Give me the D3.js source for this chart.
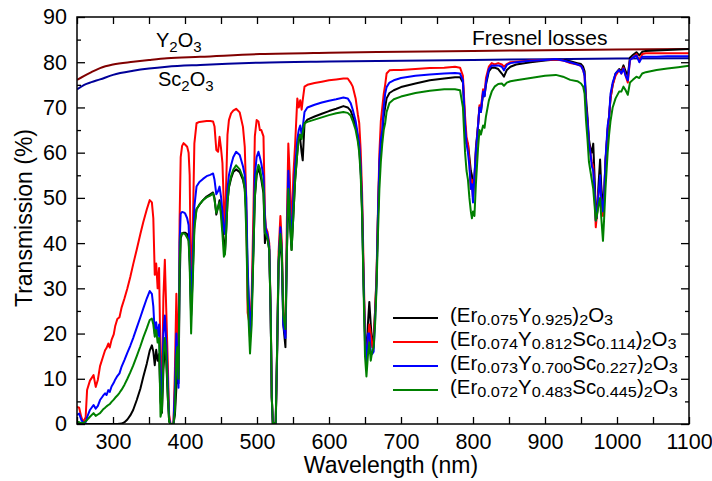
<!DOCTYPE html>
<html><head><meta charset="utf-8">
<script src="https://cdn.jsdelivr.net/npm/d3@7"></script>
<style>
body{margin:0;background:#fff}
svg{display:block}
text{font-family:"Liberation Sans",Arial,Helvetica,sans-serif;fill:#000}
</style>
</head><body>
<svg id="chart" width="712" height="481"></svg>
<script>
// ---------------- data ----------------
const wavelength = [250,253,256,259,262,264,268,273,276,279,282,286,289,291,293.5,295.5,298,301,303,306,309,312,316,320,324,328,333,338,342,347,351,354,356,358,360,362,364,366,368,370,372,374,376,378,380,384,386,388,389.5,391,392.5,394,396,398,400,403,405,406.5,408.5,410.5,413,416,420,425,430,435,439,441,443.5,446,448,450,452,454,455.5,457,459,461,464,467,471,476,480.5,483,485,487,490.3,492.6,495,497,499.5,502,504,506,509,511,512.3,514.6,517,519,520.5,522,526,528,530,532.5,534.5,536.5,539.5,541.5,543.5,545.5,548,550.5,553,556,558,560,562,563.5,566,570,580,590,600,610,620,626,630,633,637,640,642,644,646,648,650,652,654,656,658,660,662,664,666,668,670,672,674,676,678,680,684,690,700,720,740,760,775,782,786,789,791,793,795,797,798.5,800,802,804,807,809,811,814,816,818,822,826,830,835,840,843,847,852,860,880,900,915,925,935,945,950,953,955,957,959,961,963,965,967,969,970.5,972,974,976.5,978,980.5,982,984,987,989,991,994,998,1003,1006,1009,1012,1015,1018,1022,1027,1031,1035,1040,1055,1070,1085,1100];

const sEr075Y925 = [0,0,0,0,0,0,0,0,0,0,0,0,0,0,0,0,0,0,0,0,0.05,0.1,0.4,1.0,1.9,3.1,5.3,7.8,10.4,13.4,16.2,17.4,16.0,13.0,16.4,14.0,15.5,5.0,2.5,12.0,16.5,14.0,6.0,0.5,0,0,2.0,8.0,11.9,9.0,30.0,41.0,42.2,42.3,42.3,42.0,41.0,36.0,24.0,32.0,44.0,47.5,48.5,49.5,50.3,50.8,51.2,50.0,46.3,48.0,49.5,47.0,44.0,40.0,38.0,42.0,49.0,52.3,54.3,55.7,56.3,55.7,54.0,52.0,47.0,33.0,19.0,25.0,38.0,50.0,55.0,56.5,55.5,54.0,51.0,40.0,42.0,41.0,38.5,24.0,6.0,0,0,15.5,35.0,42.0,36.0,22.0,17.0,38.0,51.0,45.0,38.5,46.0,54.0,60.0,64.0,63.0,60.0,58.3,66.5,67.3,68.0,68.6,69.2,69.7,70.3,70.0,69.3,68.0,66.0,63.5,61.0,56.0,47.0,31.0,20.0,15.0,22.0,27.0,22.0,18.0,19.0,25.0,32.0,46.0,57.0,62.0,64.0,68.0,70.0,72.0,73.2,73.8,74.5,75.3,76.0,76.4,76.7,76.7,75.5,66.0,62.0,62.0,59.0,56.0,55.0,52.0,54.0,61.0,66.0,70.0,69.0,73.0,72.5,75.0,78.0,78.8,78.8,78.5,77.5,76.8,78.3,79.0,79.5,80.0,80.4,80.6,80.5,80.2,79.8,79.6,79.0,78.0,72.0,68.0,63.0,61.0,60.0,62.0,54.0,47.0,45.5,52.0,58.5,53.0,48.0,50.0,58.0,65.0,68.0,72.0,75.0,77.5,78.5,78.0,79.3,78.0,77.0,81.0,81.6,82.2,81.5,82.3,82.5,82.6,82.7,82.8,82.9];

const sEr074Sc114 = [3.8,3.6,1.5,0.4,1.5,7.5,9.6,10.8,8.2,9.8,12.8,14.8,16.3,16.8,17.8,16.9,18.6,19.8,21.6,23.2,23.6,25.8,27.8,30.0,32.5,35.3,38.6,42.0,44.6,47.5,49.5,49.0,45.5,33.0,35.5,30.0,34.5,14.0,8.0,28.0,36.3,25.0,14.0,2.0,0,0,12.0,28.8,20.0,12.0,45.0,59.0,61.5,62.1,61.8,61.3,60.0,55.0,28.0,40.0,62.0,66.5,66.8,66.9,67.0,67.0,66.9,65.8,60.6,60.2,63.5,61.0,57.7,48.0,42.0,52.0,64.0,67.2,68.7,69.3,69.7,68.9,65.7,61.3,50.3,24.6,21.5,28.2,46.6,63.6,67.2,66.9,65.0,65.0,63.6,46.6,43.5,42.5,40.0,25.0,6.0,0,0.5,17.5,38.0,46.0,40.0,25.0,20.0,45.0,62.0,55.0,42.0,55.0,62.0,72.0,70.0,71.6,69.5,71.6,74.6,75.0,75.4,75.7,76.0,76.2,76.4,76.4,75.5,74.6,72.0,68.5,66.5,60.5,51.0,35.0,20.0,14.0,18.0,22.0,20.0,17.0,18.0,25.0,33.0,47.0,60.0,67.0,70.0,73.0,75.0,77.5,78.2,78.3,78.3,78.5,78.7,78.8,79.0,78.8,77.0,68.0,63.5,62.0,58.0,52.0,54.0,50.0,54.0,60.0,66.0,70.5,70.0,74.0,73.0,76.5,79.0,79.8,79.5,79.8,79.5,79.0,79.6,80.0,80.1,80.4,80.5,80.6,80.4,79.8,79.5,79.2,78.3,77.0,70.0,67.0,62.0,60.0,58.0,57.0,50.0,43.5,46.0,51.0,53.0,50.0,46.0,50.0,58.0,65.0,68.0,72.0,75.0,77.0,78.3,77.5,78.8,77.0,75.5,80.5,81.0,81.8,80.2,81.8,82.0,82.0,82.0,82.0,82.0];

const sEr073Sc227 = [2.0,2.3,0.9,0.2,0.4,1.5,3.1,4.2,3.4,4.0,5.3,6.2,6.8,6.4,7.5,7.1,8.3,9.1,9.8,10.6,11.2,12.7,14.2,15.8,17.3,19.0,21.3,23.6,25.5,27.8,29.4,28.8,26.0,20.0,22.5,19.5,22.0,10.0,6.0,20.0,24.0,18.0,10.0,1.0,0,0,8.0,20.0,14.0,8.0,40.0,46.5,46.9,46.8,46.6,45.5,44.0,38.0,27.0,35.0,48.0,52.5,53.5,54.2,54.8,55.1,55.4,54.0,50.8,51.5,52.5,50.3,47.0,43.0,42.0,46.0,52.0,55.0,57.2,59.0,60.2,59.5,57.0,55.0,50.0,35.0,20.1,26.0,40.0,55.0,59.0,60.2,59.0,57.6,54.7,45.8,43.0,41.8,39.3,24.6,6.0,0,0.4,17.0,36.0,43.5,38.0,22.0,19.0,40.0,56.0,48.0,40.0,50.0,57.0,63.0,65.0,66.0,64.0,65.5,69.0,70.0,70.6,71.1,71.5,71.8,72.2,72.0,71.0,69.5,67.0,64.0,62.0,57.0,48.0,32.0,18.0,13.0,20.0,20.0,16.0,15.5,16.0,23.0,31.0,46.0,58.0,63.0,65.0,70.0,73.0,74.5,75.5,76.0,76.5,77.0,77.3,77.5,77.6,77.5,76.0,66.0,62.0,60.0,57.0,52.0,53.0,49.0,55.0,60.0,66.0,70.0,69.0,73.5,72.5,75.5,78.5,79.3,79.2,79.3,79.0,78.2,79.4,79.8,80.0,80.3,80.5,80.7,80.4,80.0,79.5,79.2,78.3,77.0,70.0,67.0,62.0,60.0,57.0,56.0,51.0,45.0,46.0,50.0,55.0,50.0,47.0,50.0,58.5,66.0,68.0,73.0,75.5,77.5,78.3,77.5,78.6,77.0,76.0,80.5,81.0,81.5,80.0,81.2,81.2,81.2,81.3,81.3,81.3];

const sEr072Sc445 = [0.5,0.4,0.2,0.2,0.6,0.9,1.6,2.4,1.8,2.1,2.4,3.2,3.6,3.9,4.2,4.4,4.9,5.4,5.8,6.3,6.9,7.6,8.7,10.0,11.4,12.9,15.0,17.2,19.1,21.2,23.0,23.3,22.0,19.3,20.8,18.0,19.0,1.6,3.0,15.0,19.0,15.0,7.0,0.5,0,0,3.0,15.0,17.0,10.0,35.0,41.5,42.2,42.1,42.0,41.2,40.5,35.0,20.0,30.0,43.0,47.5,48.5,49.5,50.1,50.5,51.0,49.5,46.7,48.0,49.0,46.0,42.0,37.0,37.5,42.0,49.0,52.5,54.8,56.2,57.2,56.3,54.5,52.0,43.0,28.0,15.6,22.0,38.0,50.3,55.5,57.3,56.5,54.7,51.7,42.2,42.0,41.0,38.5,24.0,6.0,0,0.4,17.0,36.0,42.0,38.0,24.0,21.0,38.0,52.0,46.0,38.5,46.0,54.0,60.0,63.0,64.0,63.0,64.5,66.5,66.8,67.3,67.8,68.3,68.7,69.0,68.8,68.2,67.0,65.0,62.5,60.0,55.0,46.0,30.0,15.0,10.5,15.0,18.0,14.0,16.0,17.0,22.0,30.0,42.0,52.0,58.0,62.0,65.0,66.5,69.0,71.0,71.8,72.4,73.2,73.7,74.0,74.0,73.8,70.0,60.0,56.0,54.0,50.0,47.0,45.5,47.0,46.0,53.0,61.0,65.0,64.0,66.0,65.5,68.0,71.5,73.5,74.6,75.2,75.3,74.8,75.5,75.8,76.0,76.5,77.0,77.2,76.8,76.1,75.8,75.3,74.6,73.0,67.0,63.0,58.0,56.0,54.0,52.0,48.0,45.0,46.0,48.0,50.0,46.0,40.5,45.0,52.0,60.0,64.0,67.0,70.0,72.0,73.5,73.5,74.6,73.8,72.8,75.5,76.1,76.8,76.5,77.5,77.8,78.3,78.6,78.9,79.2];

// Fresnel-loss limits of the pure hosts
const fresnelWavelength = [250,260,270,282,300,328,350,375,421,504,600,700,800,900,1000,1100];
const fresnelY2O3  = [76.1,77.0,77.8,78.7,79.5,80.1,80.5,80.9,81.2,81.8,82.1,82.3,82.5,82.65,82.8,82.9];
const fresnelSc2O3 = [74.0,75.0,75.6,76.2,77.2,78.1,78.6,79.0,79.4,79.9,80.15,80.35,80.5,80.65,80.8,80.9];

const xTicks = [300,400,500,600,700,800,900,1000,1100];
const yTicks = [0,10,20,30,40,50,60,70,80,90];

// legend: [er, y, sc] subscripts
const legendItems = [
  {color:"#000000", er:"0.075", y:"0.925", sc:null},
  {color:"#ff0000", er:"0.074", y:"0.812", sc:"0.114"},
  {color:"#0000ff", er:"0.073", y:"0.700", sc:"0.227"},
  {color:"#008000", er:"0.072", y:"0.483", sc:"0.445"}
];
const seriesList = [
  {values:sEr075Y925, color:"#000000"},
  {values:sEr074Sc114, color:"#ff0000"},
  {values:sEr073Sc227, color:"#0000ff"},
  {values:sEr072Sc445, color:"#008000"}
];

// ---------------- chart ----------------
const svg = d3.select("#chart");
const L=77, R=689, T=17, B=424;
const x = d3.scaleLinear().domain([250,1100]).range([L,R]);
const y = d3.scaleLinear().domain([0,90]).range([B,T]);

svg.append("defs").append("clipPath").attr("id","plotclip")
  .append("rect").attr("x",L).attr("y",T).attr("width",R-L).attr("height",B-T);

const plot = svg.append("g").attr("clip-path","url(#plotclip)");

const smooth = d3.line().x(d=>x(d[0])).y(d=>y(d[1])).curve(d3.curveMonotoneX);
plot.append("path").datum(fresnelWavelength.map((w,i)=>[w,fresnelY2O3[i]]))
  .attr("d",smooth).attr("fill","none").attr("stroke","#800000").attr("stroke-width",2);
plot.append("path").datum(fresnelWavelength.map((w,i)=>[w,fresnelSc2O3[i]]))
  .attr("d",smooth).attr("fill","none").attr("stroke","#000099").attr("stroke-width",2);

const line = d3.line().x(d=>x(d[0])).y(d=>y(d[1]));
seriesList.forEach(s=>{
  plot.append("path").datum(wavelength.map((w,i)=>[w,s.values[i]]))
    .attr("d",line).attr("fill","none").attr("stroke",s.color)
    .attr("stroke-width",2).attr("stroke-linejoin","round");
});

// axes (ticks inside)
const xAll = d3.range(250,1101,50);
const yMinor = d3.range(5,90,10);
function styleAxis(g){ g.select(".domain").remove(); g.selectAll("line").attr("stroke","#000").attr("stroke-width",1.3); }

svg.append("g").attr("transform",`translate(0,${B})`)
  .call(d3.axisBottom(x).tickValues(xAll).tickSize(-7).tickPadding(10)
    .tickFormat(d=>xTicks.includes(d)?d:""))
  .call(styleAxis)
  .selectAll("text").attr("font-size",21.5).attr("font-family","Liberation Sans, Arial, sans-serif").attr("fill","#000");
svg.append("g").attr("transform",`translate(0,${T})`)
  .call(d3.axisTop(x).tickValues(xAll).tickSize(-7).tickFormat(""))
  .call(styleAxis);

svg.append("g").attr("transform",`translate(${L},0)`)
  .call(d3.axisLeft(y).tickValues(yTicks).tickSize(-8).tickPadding(10))
  .call(styleAxis)
  .selectAll("text").attr("font-size",21.5).attr("font-family","Liberation Sans, Arial, sans-serif").attr("fill","#000");
svg.append("g").attr("transform",`translate(${L},0)`)
  .call(d3.axisLeft(y).tickValues(yMinor).tickSize(-4).tickFormat(""))
  .call(styleAxis);
svg.append("g").attr("transform",`translate(${R},0)`)
  .call(d3.axisRight(y).tickValues(yTicks).tickSize(-8).tickFormat(""))
  .call(styleAxis);
svg.append("g").attr("transform",`translate(${R},0)`)
  .call(d3.axisRight(y).tickValues(yMinor).tickSize(-4).tickFormat(""))
  .call(styleAxis);

svg.append("rect").attr("x",L).attr("y",T).attr("width",R-L).attr("height",B-T)
  .attr("fill","none").attr("stroke","#000").attr("stroke-width",1.5);

// axis titles
svg.append("text").attr("x",391).attr("y",473).attr("text-anchor","middle")
  .attr("font-size",23).text("Wavelength (nm)");
svg.append("text").attr("transform","translate(32,218) rotate(-90)").attr("text-anchor","middle")
  .attr("font-size",23).text("Transmission (%)");

// annotations
function chem(g, xPos, yPos, parts, size, subSize, color, shift, sx){
  const t = g.append("text").attr("transform",`translate(${xPos},${yPos}) scale(${sx||1},1)`)
    .attr("font-size",size).attr("fill",color);
  let sub=false;
  parts.forEach(p=>{
    const isSub = p[1];
    const ts = t.append("tspan").text(p[0]);
    if(isSub && !sub){ ts.attr("dy",shift).attr("font-size",subSize); sub=true; }
    else if(isSub){ ts.attr("font-size",subSize); }
    else if(!isSub && sub){ ts.attr("dy",-shift); sub=false; }
  });
  return t;
}
chem(svg,156,47,[["Y",0],["2",1],["O",0],["3",1]],20,15,"#800000",5);
chem(svg,158,86,[["Sc",0],["2",1],["O",0],["3",1]],20,15,"#000099",5);
svg.append("text").attr("x",472).attr("y",45).attr("font-size",21).text("Fresnel losses");

// legend
const legendY = [318,342,366,390];
legendItems.forEach((it,i)=>{
  svg.append("line").attr("x1",393).attr("x2",438).attr("y1",legendY[i]).attr("y2",legendY[i])
    .attr("stroke",it.color).attr("stroke-width",2);
  const parts = [["(Er",0],[it.er,1],["Y",0],[it.y,1]];
  if(it.sc){ parts.push(["Sc",0],[it.sc,1]); }
  parts.push([")",0],["2",1],["O",0],["3",1]);
  chem(svg,450,legendY[i]+4,parts,19.5,15.5,"#000",3,1.05);
});
</script>
</body></html>
